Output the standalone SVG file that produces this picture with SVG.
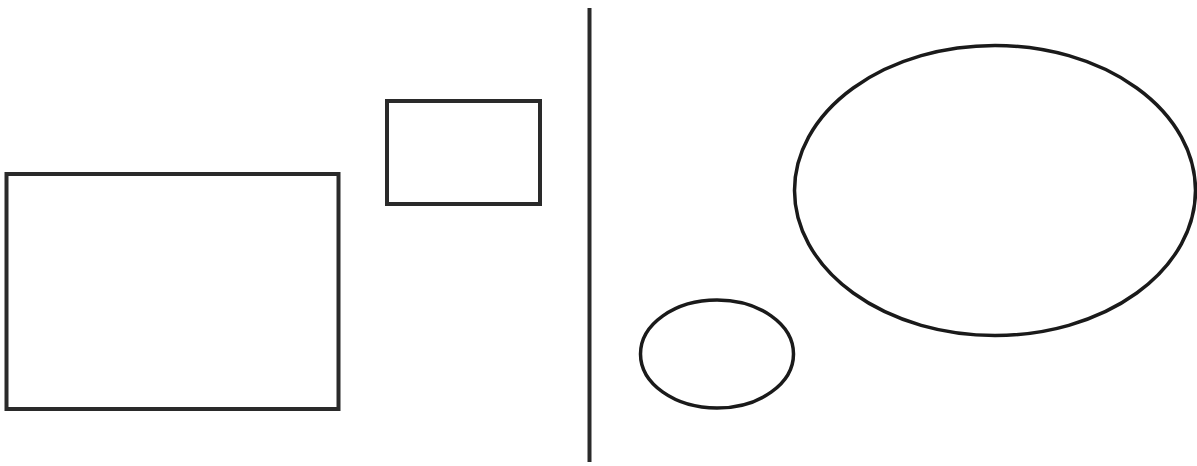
<svg xmlns="http://www.w3.org/2000/svg" width="1197" height="466" viewBox="0 0 1197 466">
<style>
.shape{fill:none;stroke:#2a2a2a;stroke-width:4}
.oval{fill:none;stroke:#1a1a1a;stroke-width:3.5}
</style>
<rect width="1197" height="466" fill="#ffffff"/>
<g id="large-rect"><rect class="shape" x="6.5" y="174" width="332" height="235"/></g>
<g id="small-rect"><rect class="shape" x="387" y="101" width="153" height="103"/></g>
<g id="divider"><line class="shape" x1="589.5" y1="8" x2="589.5" y2="462"/></g>
<g id="large-ellipse"><ellipse class="oval" cx="995" cy="190.5" rx="200.5" ry="145"/></g>
<g id="small-ellipse"><ellipse class="oval" cx="717" cy="354" rx="76.5" ry="54"/></g>
</svg>
